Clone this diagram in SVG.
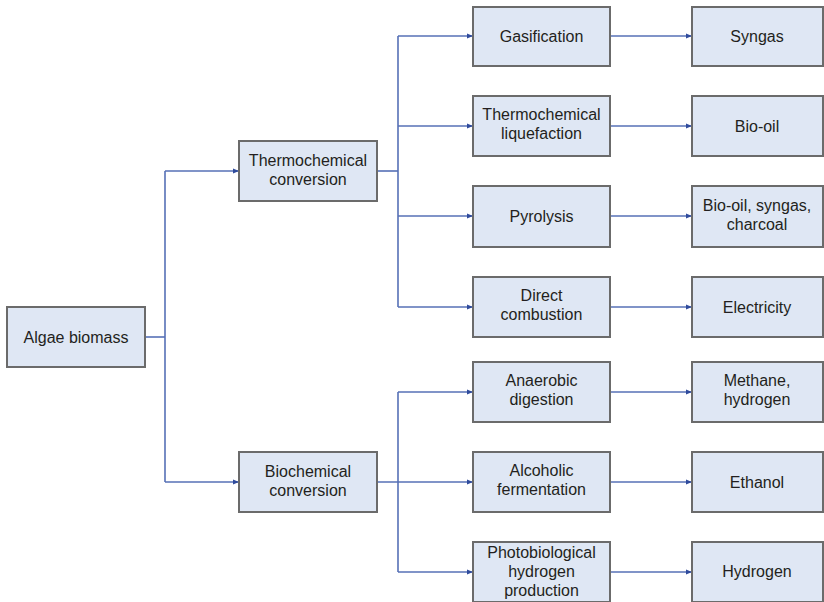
<svg xmlns="http://www.w3.org/2000/svg" width="824" height="602" viewBox="0 0 824 602">
  <defs>
    <marker id="arrow" viewBox="0 0 6 6" refX="6" refY="3" markerWidth="6" markerHeight="6" markerUnits="userSpaceOnUse" orient="auto">
      <path d="M0,0.5 L6,3 L0,5.5 Z" fill="#2f4b9c"/>
    </marker>
    <style>
      .box { fill: #dfe7f4; stroke: #6b6b6b; stroke-width: 2; }
      .lbl { font-family: "Liberation Sans", Arial, sans-serif; font-size: 16px; fill: #231f20; text-anchor: middle; }
      .wire { fill: none; stroke: #5670b6; stroke-width: 1.6; }
      .arr { marker-end: url(#arrow); }
    </style>
  </defs>
  <rect width="824" height="602" fill="#ffffff"/>

  <g id="connectors">
    <!-- root to the two conversion routes -->
    <path class="wire" d="M145,337 H165"/>
    <path class="wire" d="M165,171 V482"/>
    <path class="wire arr" d="M165,171 H239"/>
    <path class="wire arr" d="M165,482 H239"/>
    <!-- thermochemical branch -->
    <path class="wire" d="M377,171 H398"/>
    <path class="wire" d="M398,36 V307"/>
    <path class="wire arr" d="M398,36 H473"/>
    <path class="wire arr" d="M398,126 H473"/>
    <path class="wire arr" d="M398,216 H473"/>
    <path class="wire arr" d="M398,307 H473"/>
    <!-- biochemical branch -->
    <path class="wire" d="M398,392 V572"/>
    <path class="wire arr" d="M398,392 H473"/>
    <path class="wire arr" d="M377,482 H473"/>
    <path class="wire arr" d="M398,572 H473"/>
    <!-- processes to products -->
    <path class="wire arr" d="M610,36 H692"/>
    <path class="wire arr" d="M610,126 H692"/>
    <path class="wire arr" d="M610,216 H692"/>
    <path class="wire arr" d="M610,307 H692"/>
    <path class="wire arr" d="M610,392 H692"/>
    <path class="wire arr" d="M610,482 H692"/>
    <path class="wire arr" d="M610,572 H692"/>
  </g>

  <g id="algae-biomass">
    <rect class="box" x="7" y="307" width="138" height="60"/>
    <text class="lbl" x="76" y="343">Algae biomass</text>
  </g>

  <g id="thermochemical-conversion">
    <rect class="box" x="239" y="141" width="138" height="60"/>
    <text class="lbl" x="308" y="166">Thermochemical</text>
    <text class="lbl" x="308" y="185">conversion</text>
  </g>
  <g id="biochemical-conversion">
    <rect class="box" x="239" y="452" width="138" height="60"/>
    <text class="lbl" x="308" y="477">Biochemical</text>
    <text class="lbl" x="308" y="496">conversion</text>
  </g>

  <g id="gasification">
    <rect class="box" x="473" y="7" width="137" height="59"/>
    <text class="lbl" x="541.5" y="42">Gasification</text>
  </g>
  <g id="thermochemical-liquefaction">
    <rect class="box" x="473" y="96" width="137" height="60"/>
    <text class="lbl" x="541.5" y="120">Thermochemical</text>
    <text class="lbl" x="541.5" y="139">liquefaction</text>
  </g>
  <g id="pyrolysis">
    <rect class="box" x="473" y="186" width="137" height="61"/>
    <text class="lbl" x="541.5" y="222">Pyrolysis</text>
  </g>
  <g id="direct-combustion">
    <rect class="box" x="473" y="277" width="137" height="60"/>
    <text class="lbl" x="541.5" y="301">Direct</text>
    <text class="lbl" x="541.5" y="320">combustion</text>
  </g>
  <g id="anaerobic-digestion">
    <rect class="box" x="473" y="362" width="137" height="60"/>
    <text class="lbl" x="541.5" y="386">Anaerobic</text>
    <text class="lbl" x="541.5" y="405">digestion</text>
  </g>
  <g id="alcoholic-fermentation">
    <rect class="box" x="473" y="452" width="137" height="60"/>
    <text class="lbl" x="541.5" y="476">Alcoholic</text>
    <text class="lbl" x="541.5" y="495">fermentation</text>
  </g>
  <g id="photobiological-hydrogen-production">
    <rect class="box" x="473" y="542" width="137" height="60"/>
    <text class="lbl" x="541.5" y="558">Photobiological</text>
    <text class="lbl" x="541.5" y="577">hydrogen</text>
    <text class="lbl" x="541.5" y="596">production</text>
  </g>

  <g id="syngas">
    <rect class="box" x="692" y="7" width="131" height="59"/>
    <text class="lbl" x="757" y="42">Syngas</text>
  </g>
  <g id="bio-oil">
    <rect class="box" x="692" y="96" width="131" height="60"/>
    <text class="lbl" x="757" y="132">Bio-oil</text>
  </g>
  <g id="bio-oil-syngas-charcoal">
    <rect class="box" x="692" y="186" width="131" height="61"/>
    <text class="lbl" x="757" y="211">Bio-oil, syngas,</text>
    <text class="lbl" x="757" y="230">charcoal</text>
  </g>
  <g id="electricity">
    <rect class="box" x="692" y="277" width="131" height="60"/>
    <text class="lbl" x="757" y="313">Electricity</text>
  </g>
  <g id="methane-hydrogen">
    <rect class="box" x="692" y="362" width="131" height="60"/>
    <text class="lbl" x="757" y="386">Methane,</text>
    <text class="lbl" x="757" y="405">hydrogen</text>
  </g>
  <g id="ethanol">
    <rect class="box" x="692" y="452" width="131" height="60"/>
    <text class="lbl" x="757" y="488">Ethanol</text>
  </g>
  <g id="hydrogen">
    <rect class="box" x="692" y="542" width="131" height="60"/>
    <text class="lbl" x="757" y="577">Hydrogen</text>
  </g>
</svg>
